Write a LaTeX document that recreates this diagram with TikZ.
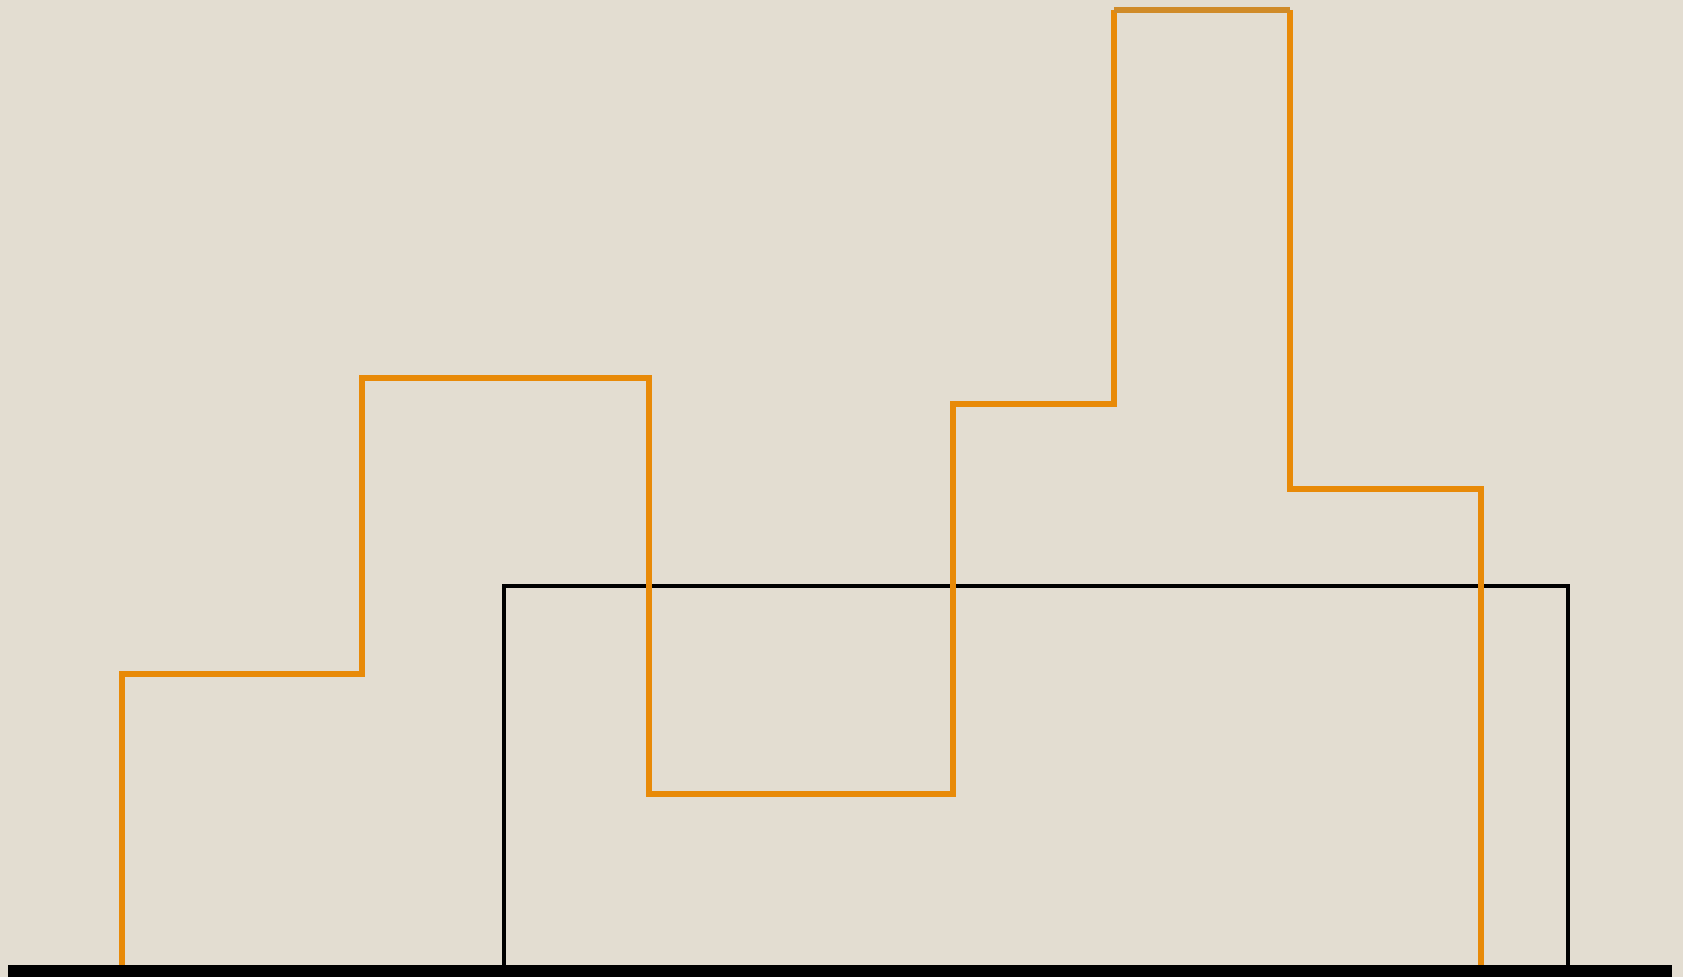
\documentclass[tikz,border=0pt]{standalone}
\definecolor{paper}{HTML}{E3DDD1}
\definecolor{steporange}{HTML}{E88A08}
\definecolor{peakorange}{HTML}{D08B28}
\begin{document}
\begin{tikzpicture}[
    x=0.01cm, y=-0.01cm,
    histo/.style={draw=steporange, line width=0.06cm},
    peak/.style={draw=peakorange, line width=0.06cm},
    frame/.style={draw=black, line width=0.04cm},
]
    % Background
    \fill[paper] (0,0) rectangle (1683,977);
    \useasboundingbox (0,0) rectangle (1683,977);

    % Step outline corners
    \coordinate (s0) at (122,966);
    \coordinate (s1) at (362,674);
    \coordinate (s2) at (649,378);
    \coordinate (s3) at (953,794);
    \coordinate (s4) at (1114,404);
    \coordinate (s5) at (1290,10);
    \coordinate (s6) at (1481,489);
    \coordinate (s7) at (1481,966);

    % Wide box
    \coordinate (b0) at (504,966);
    \coordinate (b1) at (1568,586);
    \draw[frame] (b0) |- (b1) -- (b1 |- b0);

    % Orange steps
    \draw[histo] (s0) |- (s1) |- (s2) |- (s3) |- (s4) -- (s4 |- s5);
    \draw[histo] (s5) |- (s6) -- (s7);
    \draw[peak] (s4 |- s5) -- (s5);

    % Base line
    \fill[black] (8,965) rectangle (1672,977);
\end{tikzpicture}
\end{document}
